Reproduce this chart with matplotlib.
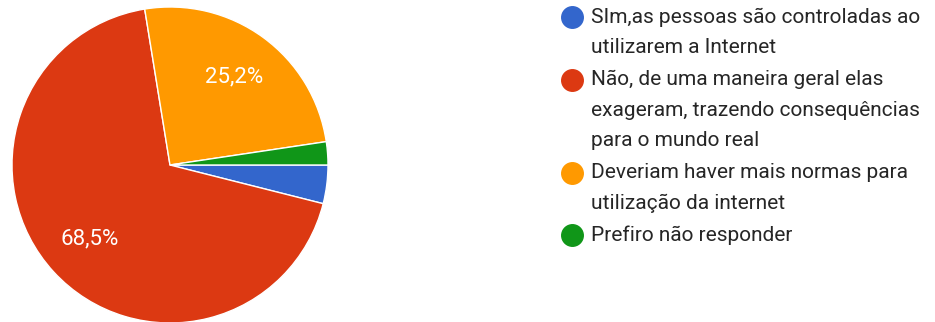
import matplotlib.pyplot as plt
from matplotlib.lines import Line2D

plt.rcParams['font.family'] = ['Roboto', 'DejaVu Sans']

# answers (127 responses)
labels = [
    "SIm,as pessoas são controladas ao\nutilizarem a Internet",
    "Não, de uma maneira geral elas\nexageram, trazendo consequências\npara o mundo real",
    "Deveriam haver mais normas para\nutilização da internet",
    "Prefiro não responder",
]
counts = [5, 87, 32, 3]
colors = ["#3366cc", "#dc3912", "#ff9900", "#109618"]

W, H = 935, 322
fig = plt.figure(figsize=(W / 100, H / 100), dpi=100)

# pie axes: center (170,165) px, radius 158 px
r = 158
ax = fig.add_axes([(170 - r) / W, (H - 165 - r) / H, 2 * r / W, 2 * r / H])


def pct(p):
    return (f"{p:.1f}%".replace(".", ",")) if p > 5 else ""


ax.pie(counts, colors=colors, startangle=0, counterclock=False,
       autopct=pct, pctdistance=0.69,
       wedgeprops=dict(edgecolor="white", linewidth=1),
       textprops=dict(color="white", fontsize=16))
ax.set_xlim(-1, 1)
ax.set_ylim(-1, 1)
ax.set_aspect("equal")
ax.axis("off")

# legend, drawn by hand like the Google Forms one
line_h = 30.5
y = 17
for lab, c in zip(labels, colors):
    fig.add_artist(Line2D([572 / W], [1 - y / H], marker="o", markersize=15.5,
                          color=c, linestyle="", transform=fig.transFigure))
    for line in lab.split("\n"):
        fig.text(591 / W, 1 - y / H, line, color="#262626", fontsize=15,
                 ha="left", va="center")
        y += line_h
    y += 1.5

fig.savefig("out.png", dpi=100, facecolor="white")
